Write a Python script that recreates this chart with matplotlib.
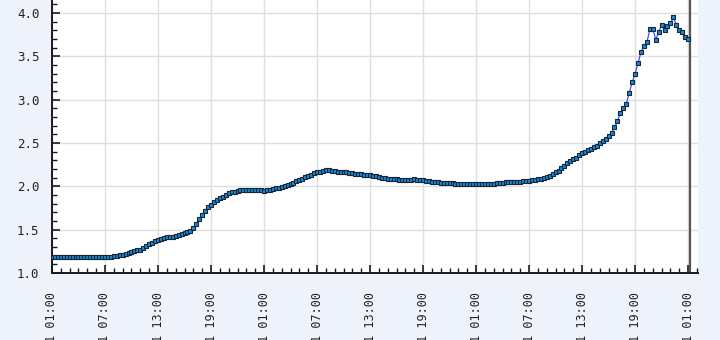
import numpy as np
import pandas as pd
import matplotlib
matplotlib.use("Agg")
import matplotlib.pyplot as plt
import matplotlib.dates as mdates

# ----------------------------- DATA -----------------------------
# one reading every 20 minutes, three per hour (row = hour)
start_time = "2011-03-14 01:00"
step = "20min"
values = [
    1.19, 1.19, 1.19,  1.19, 1.19, 1.19,  1.19, 1.19, 1.19,  1.18, 1.18, 1.19,
    1.19, 1.19, 1.19,  1.19, 1.19, 1.19,  1.19, 1.19, 1.19,  1.20, 1.20, 1.21,
    1.21, 1.22, 1.23,  1.24, 1.25, 1.26,  1.27, 1.29, 1.31,  1.34, 1.35, 1.37,
    1.38, 1.39, 1.40,  1.41, 1.42, 1.42,  1.43, 1.44, 1.45,  1.46, 1.47, 1.49,
    1.52, 1.57, 1.62,  1.67, 1.72, 1.76,  1.79, 1.82, 1.84,  1.86, 1.88, 1.90,
    1.92, 1.93, 1.94,  1.95, 1.96, 1.96,  1.96, 1.96, 1.96,  1.96, 1.96, 1.96,
    1.95, 1.96, 1.96,  1.97, 1.98, 1.98,  1.99, 2.00, 2.01,  2.03, 2.04, 2.06,
    2.07, 2.09, 2.11,  2.12, 2.13, 2.15,  2.16, 2.17, 2.18,  2.19, 2.19, 2.18,
    2.18, 2.17, 2.17,  2.16, 2.16, 2.15,  2.15, 2.14, 2.14,  2.14, 2.13, 2.13,
    2.13, 2.12, 2.12,  2.11, 2.10, 2.10,  2.09, 2.08, 2.08,  2.08, 2.07, 2.07,
    2.07, 2.07, 2.07,  2.08, 2.07, 2.07,  2.07, 2.06, 2.06,  2.05, 2.05, 2.05,
    2.04, 2.04, 2.04,  2.04, 2.04, 2.03,  2.03, 2.03, 2.03,  2.03, 2.03, 2.03,
    2.03, 2.03, 2.03,  2.03, 2.03, 2.03,  2.03, 2.04, 2.04,  2.04, 2.05, 2.05,
    2.05, 2.05, 2.05,  2.05, 2.06, 2.06,  2.06, 2.07, 2.07,  2.08, 2.09, 2.10,
    2.11, 2.12, 2.14,  2.16, 2.18, 2.21,  2.24, 2.27, 2.29,  2.31, 2.33, 2.36,
    2.39, 2.40, 2.42,  2.43, 2.45, 2.47,  2.50, 2.52, 2.55,  2.58, 2.62, 2.68,
    2.75, 2.85, 2.90,  2.95, 3.08, 3.20,  3.30, 3.42, 3.55,  3.62, 3.66, 3.81,
    3.82, 3.69, 3.78,  3.86, 3.80, 3.85,  3.88, 3.95, 3.86,  3.80, 3.78, 3.72,
    3.70,
]
times = pd.date_range(start_time, periods=len(values), freq=step)

y_ticks = [1.0, 1.5, 2.0, 2.5, 3.0, 3.5, 4.0]

# ----------------------------- PLOT -----------------------------
bg = "#eef3fb"
fig = plt.figure(figsize=(7.2, 3.4), dpi=100, facecolor=bg)
ax = fig.add_axes([0.0722, 0.197, 0.897, 0.803])
ax.set_facecolor("white")

ax.plot(times, values, color="#3a3aff", lw=0.8, marker="s", markersize=3.3,
        markerfacecolor="#0b8de0", markeredgecolor="#1c2230", markeredgewidth=0.8,
        zorder=3)

t0 = times[0]
ax.set_xlim(t0, t0 + pd.Timedelta(hours=73.1))
ax.set_ylim(1.0, 4.15)

ax.axvline(t0 + pd.Timedelta(hours=72.2), color="#555555", lw=1.6, zorder=2)

ax.xaxis.set_major_locator(mdates.HourLocator(byhour=[1, 7, 13, 19]))
ax.xaxis.set_minor_locator(mdates.HourLocator())
ax.xaxis.set_major_formatter(mdates.DateFormatter("%d.%m.%Y %H:%M"))
ax.set_yticks(y_ticks)
ax.set_yticks(np.arange(1.0, 4.15, 0.1), minor=True)
ax.yaxis.set_major_formatter(matplotlib.ticker.FormatStrFormatter("%.1f"))

ax.grid(True, which="major", color="#dedede", lw=1.0, zorder=0)
ax.set_axisbelow(True)

for s in ["top", "right"]:
    ax.spines[s].set_visible(False)
for s in ["left", "bottom"]:
    ax.spines[s].set_color("#1a1a1a")
    ax.spines[s].set_linewidth(1.4)

ax.tick_params(which="major", direction="in", length=6, width=1.2, color="#1a1a1a",
               labelcolor="#222222")
ax.tick_params(which="minor", direction="in", length=3.5, width=1.0, color="#1a1a1a")
ax.tick_params(axis="y", pad=9, labelsize=9)
ax.tick_params(axis="x", pad=14, labelsize=8.5)

for lab in ax.get_xticklabels():
    lab.set_rotation(90)
    lab.set_ha("center")
    lab.set_va("top")
for lab in ax.get_xticklabels() + ax.get_yticklabels():
    lab.set_family("DejaVu Sans Mono")

fig.savefig("out.png", dpi=100, facecolor=bg)
